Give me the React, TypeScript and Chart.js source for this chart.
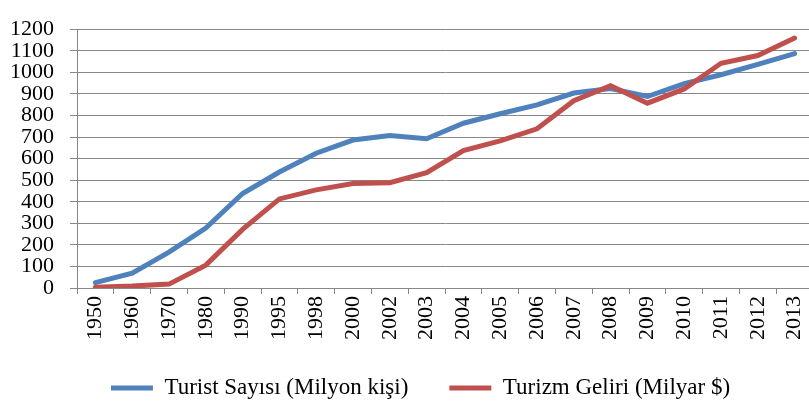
import React, { useEffect, useRef } from "react";
import { Chart, registerables } from "chart.js";

Chart.register(...registerables);

const categories = ["1950", "1960", "1970", "1980", "1990", "1995", "1998", "2000", "2002", "2003", "2004", "2005", "2006", "2007", "2008", "2009", "2010", "2011", "2012", "2013"];
const touristArrivals = [25, 69, 166, 278, 438, 538, 625, 686, 707, 692, 764, 808, 849, 904, 925, 888, 948, 989, 1037, 1087];
const tourismReceipts = [4, 9, 18, 106, 272, 413, 455, 484, 488, 535, 637, 682, 738, 868, 938, 857, 923, 1042, 1078, 1159];
const seriesNames = ["Turist Sayısı (Milyon kişi)", "Turizm Geliri (Milyar $)"];
const yMin = 0;
const yMax = 1200;
const yStep = 100;

const FONT = "'Liberation Serif', 'Times New Roman', serif";
const GRID = "#878787";
const LEGEND_PAD = 41;
const LEGEND_FONT = 23;
const LEGEND_SHIFT = 28;
const LEGEND_CENTER_Y = 388;

const legendPlacer = {
  id: "legendPlacer",
  afterLayout(chart: any) {
    const lg = chart.legend;
    if (!lg) return;
    lg.left += LEGEND_SHIFT;
    lg.top = LEGEND_CENTER_Y - LEGEND_PAD - LEGEND_FONT / 2;
    lg.bottom = chart.height;
    lg.height = lg.bottom - lg.top;
  },
};

export default function App() {
  const ref = useRef<HTMLCanvasElement | null>(null);

  useEffect(() => {
    if (!ref.current) return;
    const chart = new Chart(ref.current, {
      type: "line",
      data: {
        labels: categories,
        datasets: [
          {
            label: seriesNames[0],
            data: touristArrivals,
            borderColor: "#4F81BD",
            backgroundColor: "#4F81BD",
            borderWidth: 5,
            borderCapStyle: "round",
            pointRadius: 0,
            pointHoverRadius: 0,
            tension: 0,
            order: 1,
          },
          {
            label: seriesNames[1],
            data: tourismReceipts,
            borderColor: "#C0504D",
            backgroundColor: "#C0504D",
            borderWidth: 5,
            borderCapStyle: "round",
            pointRadius: 0,
            pointHoverRadius: 0,
            tension: 0,
            order: 0,
          },
        ],
      },
      plugins: [legendPlacer],
      options: {
        responsive: true,
        maintainAspectRatio: false,
        animation: false,
        events: [],
        layout: { padding: { left: 0, right: 17, top: 13, bottom: 0 } },
        plugins: {
          tooltip: { enabled: false },
          legend: {
            position: "bottom",
            maxHeight: 59,
            labels: {
              usePointStyle: true,
              pointStyle: "line",
              pointStyleWidth: 42,
              padding: LEGEND_PAD,
              color: "#000",
              font: { family: FONT, size: LEGEND_FONT },
              sort: (a: any, b: any) => a.datasetIndex - b.datasetIndex,
            },
          },
        },
        scales: {
          x: {
            offset: true,
            grid: {
              offset: true,
              drawOnChartArea: false,
              drawTicks: true,
              tickLength: 6,
              color: GRID,
              lineWidth: 1,
            },
            border: { display: true, color: GRID, width: 1 },
            ticks: {
              minRotation: 90,
              maxRotation: 90,
              autoSkip: false,
              padding: 2,
              color: "#000",
              font: { family: FONT, size: 22 },
            },
            afterFit: (s: any) => {
              s.height = 58;
            },
          },
          y: {
            min: yMin,
            max: yMax,
            grid: {
              color: GRID,
              lineWidth: 1,
              drawTicks: true,
              tickLength: 7,
            },
            border: { display: true, color: GRID, width: 1 },
            ticks: {
              stepSize: yStep,
              autoSkip: false,
              padding: 16,
              color: "#000",
              font: { family: FONT, size: 22 },
              callback: (v: any) => String(v),
            },
            afterFit: (s: any) => {
              s.width = 77;
            },
          },
        },
      },
    });
    return () => chart.destroy();
  }, []);

  return (
    <div style={{ position: "fixed", left: 0, top: 0, width: 809, height: 405, overflow: "hidden", background: "#fff" }}>
      <div style={{ position: "absolute", left: 0, top: 0, width: 830, height: 405 }}>
        <canvas ref={ref} />
      </div>
    </div>
  );
}
